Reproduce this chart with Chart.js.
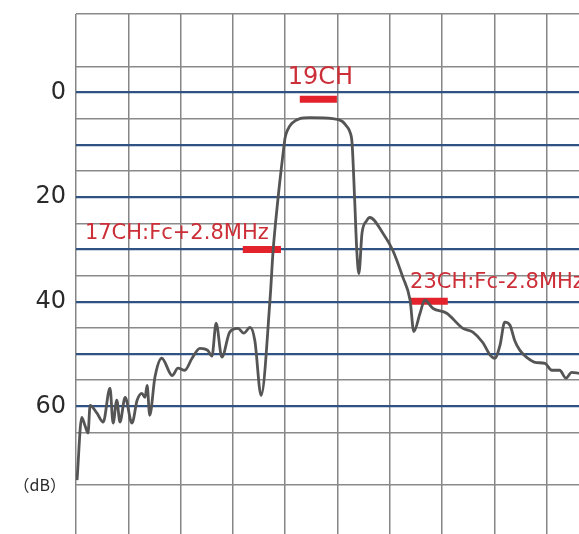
<!DOCTYPE html>
<html>
<head>
<meta charset="utf-8">
<script src="https://cdn.jsdelivr.net/npm/chart.js@4.4.1/dist/chart.umd.min.js"></script>
<style>
  body { margin: 0; background: #fff; }
  canvas { display: block; }
</style>
</head>
<body>
<canvas id="spectrum" width="579" height="534"></canvas>
<script>
// horizontal position in grid divisions, level in dB (0 at top, grows downward)
const freqDiv = [0.02, 0.11, 0.17, 0.23, 0.27, 0.40, 0.52, 0.65, 0.71, 0.78, 0.84, 0.94, 1.07, 1.17, 1.26, 1.32, 1.36, 1.41,
  1.51, 1.64, 1.84, 1.95, 2.08, 2.22, 2.37, 2.52, 2.60, 2.68, 2.79, 2.94, 3.10, 3.21, 3.33, 3.42, 3.54, 3.71, 3.77, 3.86,
  3.96, 4.00, 4.05, 4.13, 4.28, 4.47, 4.91, 5.09, 5.18, 5.24, 5.28, 5.33, 5.37, 5.41, 5.47, 5.56, 5.62, 5.87, 6.06, 6.25,
  6.39, 6.46, 6.58, 6.67, 6.83, 7.09, 7.40, 7.59, 7.78, 7.92, 8.01, 8.11, 8.20, 8.30, 8.39, 8.49, 8.64, 8.78, 8.97, 9.10,
  9.25, 9.37, 9.48, 9.62];
const levelDb = [74.1, 62.1, 63.6, 65.1, 59.8, 61.3, 63.0, 56.5, 63.2, 58.8, 63.0, 58.3, 63.2, 58.8, 57.5, 58.3, 56.0, 61.7,
  54.4, 50.8, 54.1, 52.7, 53.1, 50.8, 48.9, 49.3, 50.4, 44.1, 50.6, 45.8, 45.1, 46.0, 44.9, 47.4, 57.9, 39.7, 30.2, 20.6,
  11.7, 8.6, 7.1, 5.9, 5.0, 4.8, 5.0, 5.5, 6.5, 7.6, 9.7, 20.6, 30.2, 34.6, 26.9, 24.5, 23.9, 26.9, 30.2, 35.3,
  39.7, 45.7, 42.2, 39.7, 41.3, 42.2, 45.1, 45.8, 47.8, 50.2, 50.8, 48.3, 43.9, 44.5, 47.4, 49.3, 50.8, 51.6, 51.8, 53.1,
  53.1, 54.6, 53.5, 53.7];

// channel markers (red bars) and their captions
const markerNames = ['19CH', '17CH:Fc+2.8MHz', '23CH:Fc-2.8MHz'];
const markerFrom = [4.28, 3.19, 6.39];
const markerTo = [4.99, 3.92, 7.11];
const markerLevel = [1.3, 30.0, 39.9];
const captionX = [4.05, 0.17, 6.39];
const captionLevel = [-2.9, 26.9, 36.3];

// grid lines and tick labels
const minorLevels = [-15, -5, 5, 15, 25, 35, 45, 55, 65, 75];
const majorLevels = [0, 10, 20, 30, 40, 50, 60];
const tickLabels = { 0: '0', 20: '20', 40: '40', 60: '60', 75: '（dB）' };
const freqGrid = [0, 1, 2, 3, 4, 5, 6, 7, 8, 9];

const allLevels = minorLevels.concat(majorLevels).sort((a, b) => a - b);

const datasets = [{
  data: freqDiv.map((f, i) => ({ x: f, y: levelDb[i] })),
  borderColor: '#555555',
  borderWidth: 2.8,
  pointRadius: 0,
  cubicInterpolationMode: 'monotone'
}];

markerNames.forEach((name, i) => {
  datasets.push({
    data: [{ x: markerFrom[i], y: markerLevel[i] }, { x: markerTo[i], y: markerLevel[i] }],
    borderColor: '#e3222c',
    borderWidth: 7,
    borderCapStyle: 'butt',
    pointRadius: 0
  });
});

// captions next to the markers
const captionPlugin = {
  id: 'captions',
  afterDatasetsDraw(chart) {
    const { ctx, scales } = chart;
    ctx.save();
    ctx.fillStyle = '#cc2f38';
    ctx.textBaseline = 'middle';
    ctx.textAlign = 'left';
    markerNames.forEach((name, i) => {
      ctx.font = (i === 0 ? '24px' : '21px') + ' "DejaVu Sans"';
      ctx.fillText(name, scales.x.getPixelForValue(captionX[i]), scales.y.getPixelForValue(captionLevel[i]));
    });
    ctx.restore();
  }
};

new Chart(document.getElementById('spectrum'), {
  type: 'line',
  data: { datasets: datasets },
  options: {
    responsive: false,
    animation: false,
    layout: { padding: { top: 14, left: 0, right: 0, bottom: 0 } },
    plugins: { legend: { display: false }, tooltip: { enabled: false } },
    scales: {
      x: {
        type: 'linear',
        min: 0,
        max: 9.62,
        afterBuildTicks: s => { s.ticks = freqGrid.map(v => ({ value: v })); },
        afterFit: s => { s.height = 0; },
        ticks: { display: false },
        grid: { color: '#858585', lineWidth: 1.5, drawTicks: false },
        border: { display: false }
      },
      y: {
        type: 'linear',
        reverse: true,
        min: -15,
        max: 84.4,
        afterBuildTicks: s => { s.ticks = allLevels.map(v => ({ value: v })); },
        afterFit: s => { s.width = 76; s.paddingTop = 0; s.paddingBottom = 0; },
        grid: {
          color: c => majorLevels.includes(c.tick.value) ? '#2f5283' : '#8a8a8a',
          lineWidth: c => majorLevels.includes(c.tick.value) ? 2.2 : 1.5,
          drawTicks: false
        },
        border: { display: false },
        ticks: {
          autoSkip: false,
          padding: 10,
          color: '#2a2a2a',
          callback: v => tickLabels[v] !== undefined ? tickLabels[v] : '',
          font: c => c.tick && c.tick.value === 75
            ? { family: '"Noto Sans CJK JP", "DejaVu Sans"', size: 16 }
            : { family: '"DejaVu Sans"', size: 24 }
        }
      }
    }
  },
  plugins: [captionPlugin]
});
</script>
</body>
</html>
